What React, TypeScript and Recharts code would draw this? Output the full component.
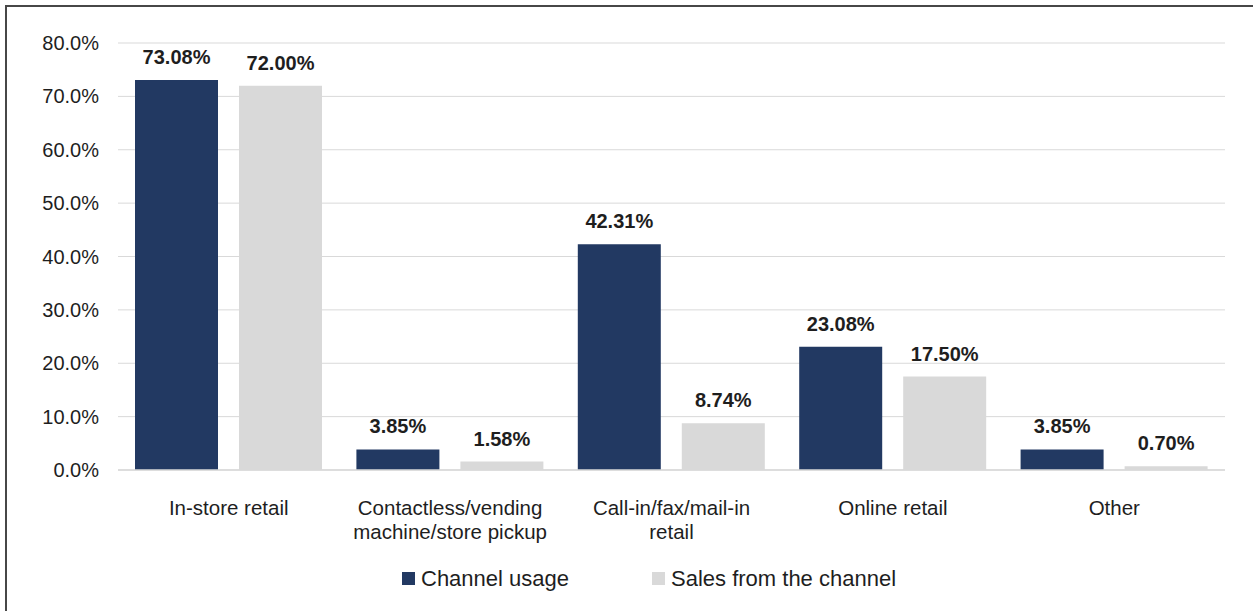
import { BarChart, Bar, XAxis, YAxis, CartesianGrid, Legend, LabelList } from 'recharts'

const categories = [
  'In-store retail',
  'Contactless/vending\nmachine/store pickup',
  'Call-in/fax/mail-in\nretail',
  'Online retail',
  'Other',
]
const channelUsage = [73.08, 3.85, 42.31, 23.08, 3.85]
const salesFromChannel = [72.0, 1.58, 8.74, 17.5, 0.7]
const yTicks = [0, 10, 20, 30, 40, 50, 60, 70, 80]

const SERIES = [
  { key: 'usage', name: 'Channel usage', color: '#223962' },
  { key: 'sales', name: 'Sales from the channel', color: '#d9d9d9' },
]

const FONT = '"Liberation Sans", Arial, sans-serif'
const TEXT = '#1e1e1e'

const data = categories.map((c, i) => ({
  category: c,
  usage: channelUsage[i],
  sales: salesFromChannel[i],
}))

function CategoryTick({ x, y, payload }: any) {
  const lines = String(payload.value).split('\n')
  return (
    <text x={x} y={y} textAnchor="middle" fontSize={20.5} fill={TEXT} fontFamily={FONT}>
      {lines.map((line, i) => (
        <tspan key={i} x={x} dy={i === 0 ? 37 : 24}>
          {line}
        </tspan>
      ))}
    </text>
  )
}

function LegendContent() {
  return (
    <div style={{ display: 'flex', alignItems: 'center', fontFamily: FONT, fontSize: 22, color: TEXT, lineHeight: '25px' }}>
      {SERIES.map((s, i) => (
        <div key={s.key} style={{ display: 'flex', alignItems: 'center', marginRight: i === 0 ? 83 : 0 }}>
          <div style={{ width: 13, height: 13, background: s.color, marginRight: 6 }} />
          <span>{s.name}</span>
        </div>
      ))}
    </div>
  )
}

export default function App() {
  return (
    <div style={{ position: 'absolute', left: 0, top: 0, width: 1253, height: 611, background: '#fff' }}>
      <div
        style={{
          position: 'absolute',
          left: 5,
          top: 5,
          right: 0,
          bottom: 0,
          borderTop: '2px solid #474747',
          borderLeft: '2px solid #474747',
        }}
      />
      <BarChart
        width={1253}
        height={611}
        data={data}
        margin={{ top: 43, right: 28, left: 0, bottom: 81 }}
        barGap={21}
        barSize={83}
        style={{ position: 'absolute', left: 0, top: 0 }}
      >
        <CartesianGrid vertical={false} stroke="#d9d9d9" strokeWidth={1} />
        <XAxis
          dataKey="category"
          height={60}
          tick={<CategoryTick />}
          tickLine={false}
          axisLine={{ stroke: '#d9d9d9', strokeWidth: 1.5 }}
          interval={0}
        />
        <YAxis
          width={118}
          domain={[0, 80]}
          ticks={yTicks}
          tickFormatter={(v: number) => `${v.toFixed(1)}%`}
          tickLine={false}
          axisLine={false}
          tickSize={0}
          tickMargin={19}
          tick={{ fontSize: 20, fill: TEXT, fontFamily: FONT }}
        />
        <Legend
          layout="vertical"
          align="center"
          verticalAlign="middle"
          content={<LegendContent />}
          wrapperStyle={{ left: 402, top: 566, width: 620, height: 25 }}
        />
        {SERIES.map((s) => (
          <Bar key={s.key} dataKey={s.key} name={s.name} fill={s.color} isAnimationActive={false}>
            <LabelList
              dataKey={s.key}
              position="top"
              offset={16}
              formatter={(v: any) => `${Number(v).toFixed(2)}%`}
              style={{ fontSize: 20, fontWeight: 700, fill: TEXT, fontFamily: FONT }}
            />
          </Bar>
        ))}
      </BarChart>
    </div>
  )
}
